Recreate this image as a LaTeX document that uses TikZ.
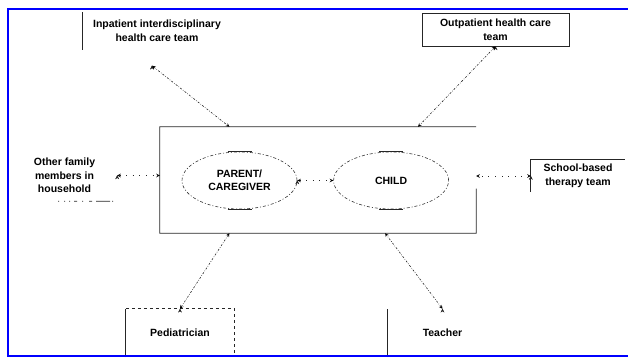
\documentclass[tikz,border=0pt]{standalone}
\usepackage{fontspec}
\setmainfont{Liberation Sans}
\usetikzlibrary{arrows,shapes,positioning,calc}
\tikzset{
	member/.style={
		rectangle,
		align=center,
		inner sep=0pt,
		font=\fontsize{10.5}{13.5}\selectfont\bfseries,
	},
	person/.style={
		ellipse,
		line width=0.6pt,
		draw=black!80,
		dash pattern=on 3pt off 2pt on 1pt off 2pt,
		minimum width=115pt,
		minimum height=57pt,
		align=center,
		font=\fontsize{10.5}{13}\selectfont\bfseries,
	},
	link/.style={
		<->,
		line width=0.6pt,
		draw=black!85,
		dash pattern=on 2pt off 1.5pt on 0.6pt off 1.5pt,
	},
	faint/.style={
		<->,
		line width=0.6pt,
		draw=black!85,
		dash pattern=on 0.6pt off 6pt,
	},
	edgeline/.style={
		line width=0.7pt,
		draw=black!85,
	},
	frame/.style={
		draw=blue,
		line width=2pt,
	},
}

\begin{document}
\begin{tikzpicture}[x=1pt, y=-1pt, >=stealth, node distance=36pt]
	\useasboundingbox (0,0) rectangle (628,358);
	% nodes
	\node [member, minimum width=148pt, minimum height=37pt] (inpatient) at (157,31) {Inpatient interdisciplinary\\health care team};
	\node [member, edgeline, minimum width=147pt, minimum height=33pt] (outpatient) at (495.5,29.5) {Outpatient health care\\team};
	\node [member, minimum width=105pt, minimum height=51pt] (other) at (64.5,175.5) {Other family\\members in\\household};
	\node [member, minimum width=316pt, minimum height=106pt] (family) at (318,180) {};
	\node [person] (parent) at (239.5,180.5) {PARENT/\\CAREGIVER};
	\node [person] (child) [right=of parent] {CHILD};
	\node [member, minimum width=94pt, minimum height=32pt] (school) at (578,176) {School-based\\therapy team};
	\node [member, minimum width=108pt, minimum height=48pt] (pediatrician) at (180,333) {Pediatrician};
	\node [member, minimum width=109pt, minimum height=48pt] (teacher) at (442.5,333) {Teacher};
	
	% box edges
	\draw [edgeline] (inpatient.north west) -- (inpatient.south west);
	\draw [edgeline] ($(family.north east)!0.58!(family.south east)$) -- (family.south east) -- (family.south west) -- (family.north west) -- (family.north east);
	\draw [edgeline, dash pattern=on 1pt off 5pt on 1pt off 4pt on 1pt off 4pt on 3pt off 5pt on 1pt off 6pt on 3pt off 4pt on 14pt off 2pt] ($(other.south west)!0.44!(other.south east)$) -- (other.south east);
	\draw [edgeline] (school.south west) -- (school.north west) -- (school.north east);
	\draw [edgeline] (pediatrician.south west) -- (pediatrician.north west);
	\draw [edgeline, dashed] (pediatrician.north west) -- (pediatrician.north east) -- (pediatrician.south east);
	\draw [edgeline] (teacher.south west) -- (teacher.north west);
	\foreach \who in {parent, child} {
		\draw [edgeline] ([xshift=-12pt]\who.north) -- ([xshift=12pt]\who.north);
		\draw [edgeline] ([xshift=-12pt]\who.south) -- ([xshift=12pt]\who.south);
	}
	
	%arcs
	\path[link] ($(inpatient.south)+(-5,16)$) edge ($(family.north west)!0.22!(family.north east)$);
	\path[link] (outpatient.south) edge ($(family.north west)!0.816!(family.north east)$);
	\path[link] (pediatrician.north) edge ($(family.south west)!0.22!(family.south east)$);
	\path[link] (teacher.north) edge ($(family.south west)!0.712!(family.south east)$);
	\path[faint] (other.east) edge (other.east -| family.west);
	\path[faint] (parent.east) edge (child.west);
	\path[faint] (school.west) edge (school.west -| family.east);
	
	\draw [frame] (628,9) -- (8,9) -- (8,356) -- (628,356);
\end{tikzpicture}
\end{document}
